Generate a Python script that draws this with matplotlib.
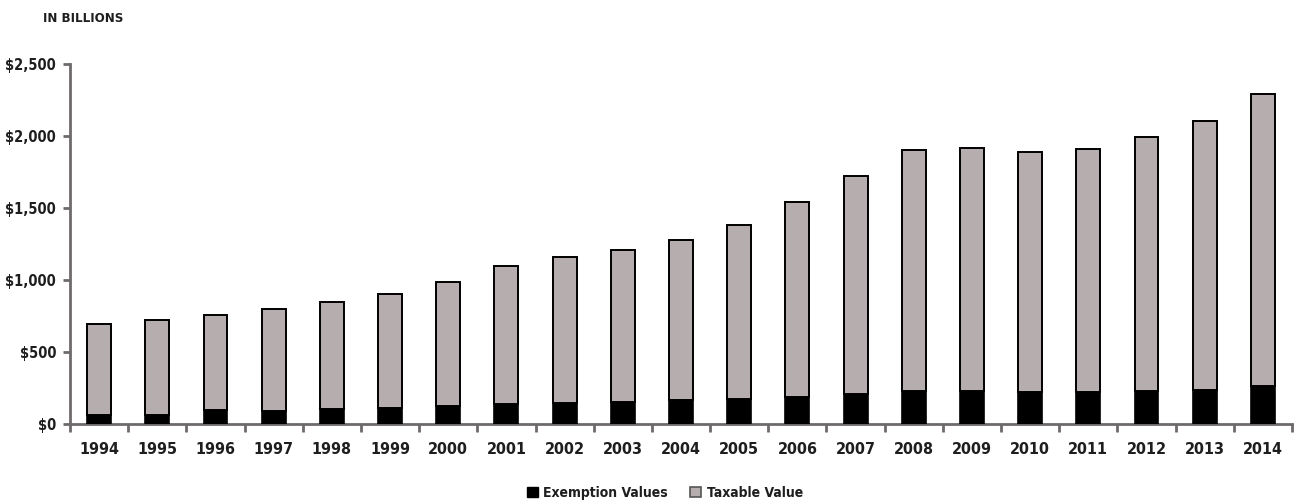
import matplotlib
matplotlib.use("Agg")
import matplotlib.pyplot as plt
from matplotlib.patches import Patch
from matplotlib.ticker import FuncFormatter, FixedLocator
import numpy as np

years = ["1994", "1995", "1996", "1997", "1998", "1999", "2000", "2001", "2002",
         "2003", "2004", "2005", "2006", "2007", "2008", "2009", "2010", "2011",
         "2012", "2013", "2014"]
# values in billions of dollars
exemption_values = [65, 65, 97, 92, 104, 113, 127, 141, 148, 155, 165, 174, 185,
                    208, 227, 227, 220, 225, 229, 238, 264]
taxable_value = [632, 655, 658, 709, 744, 790, 858, 957, 1012, 1052, 1114, 1209,
                 1358, 1515, 1675, 1693, 1668, 1688, 1765, 1868, 2029]
y_ticks = [0, 500, 1000, 1500, 2000, 2500]

FONT = dict(family="DejaVu Sans", stretch="condensed", weight="bold")
TEXT_COLOR = "#1e1e1e"
AXIS_COLOR = "#6e6a6c"
TAXABLE_COLOR = "#b6aeae"

fig = plt.figure(figsize=(12.96, 5.04), dpi=100)
ax = fig.add_axes([70 / 1296, 80 / 504, 1222 / 1296, 360 / 504])

x = np.arange(len(years))
width = 0.41
ax.bar(x, exemption_values, width, color="black", edgecolor="black",
       linewidth=1.2, label="Exemption Values", zorder=3)
ax.bar(x, taxable_value, width, bottom=exemption_values, color=TAXABLE_COLOR,
       edgecolor="black", linewidth=1.4, label="Taxable Value", zorder=3)

ax.set_xlim(-0.5, len(years) - 0.5)
ax.set_ylim(0, 2500)

for side in ("top", "right"):
    ax.spines[side].set_visible(False)
for side in ("left", "bottom"):
    ax.spines[side].set_color(AXIS_COLOR)
    ax.spines[side].set_linewidth(2)

ax.yaxis.set_major_locator(FixedLocator(y_ticks))
ax.yaxis.set_major_formatter(FuncFormatter(lambda v, p: f"${v:,.0f}"))
ax.tick_params(axis="y", length=5, width=2, color=AXIS_COLOR, pad=5,
               labelcolor=TEXT_COLOR)

# year labels sit under each bar; ticks mark boundaries between years
ax.set_xticks(x)
ax.set_xticklabels(years)
ax.tick_params(axis="x", which="major", length=0, pad=13, labelcolor=TEXT_COLOR)
ax.set_xticks(np.arange(len(years) + 1) - 0.5, minor=True)
ax.tick_params(axis="x", which="minor", length=6, width=2, color=AXIS_COLOR,
               direction="out")

for lab in ax.get_yticklabels():
    lab.set_fontproperties(dict(FONT, size=10.5))
for lab in ax.get_xticklabels():
    lab.set_fontproperties(dict(FONT, size=11.5))

fig.text(43 / 1296, 1 - 18 / 504, "IN BILLIONS", ha="left", va="center",
         color=TEXT_COLOR, fontsize=9.5, **FONT)

handles = [Patch(facecolor="black", edgecolor="black"),
           Patch(facecolor=TAXABLE_COLOR, edgecolor="#555555", linewidth=1.2)]
fig.legend(handles, ["Exemption Values", "Taxable Value"], loc="center",
           bbox_to_anchor=(665 / 1296, 1 - 493 / 504), ncol=2, frameon=False,
           handlelength=0.8, handleheight=0.8, handletextpad=0.4,
           columnspacing=1.6, prop=dict(FONT, size=10), labelcolor=TEXT_COLOR)

fig.savefig("out.png", dpi=100)
